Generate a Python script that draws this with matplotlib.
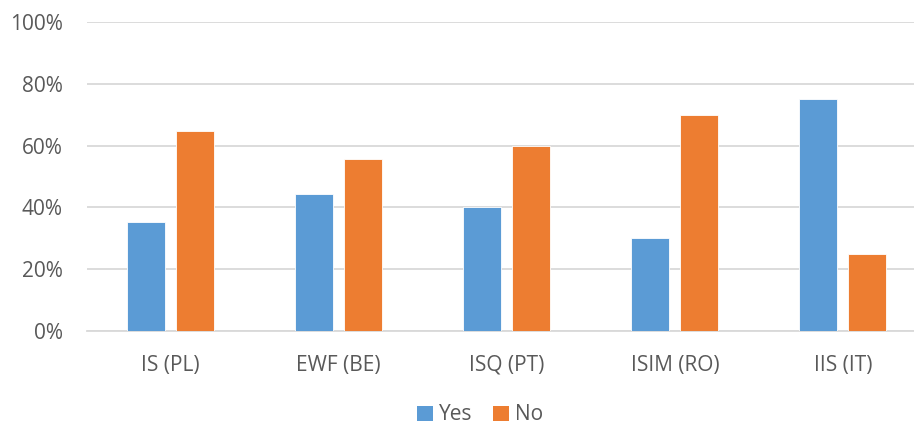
import numpy as np
import matplotlib
matplotlib.use('Agg')
import matplotlib.pyplot as plt
from matplotlib.ticker import PercentFormatter
from matplotlib.patches import Patch

# 各机构的回答比例（%）
categories = ['IS (PL)', 'EWF (BE)', 'ISQ (PT)', 'ISIM (RO)', 'IIS (IT)']
yes_pct = [35.3, 44.4, 40.0, 30.0, 75.0]
no_pct = [64.7, 55.6, 60.0, 70.0, 25.0]

blue = '#5B9BD5'
orange = '#ED7D31'
grid_color = '#D9D9D9'
text_color = '#595959'

plt.rcParams['font.family'] = ['Open Sans', 'DejaVu Sans']

W, H = 914, 425
fig = plt.figure(figsize=(W / 100, H / 100), dpi=100)
# 绘图区：左 86.5px，0% 在 331px，100% 在 22px，右侧略超出画布
ax = fig.add_axes([86.5 / W, (H - 331) / H, (927 - 86.5) / W, 309 / H])

x = np.arange(len(categories))
width = 0.226
offset = 0.146
ax.bar(x - offset, yes_pct, width, color=blue, edgecolor='white', linewidth=0.6, zorder=3)
ax.bar(x + offset, no_pct, width, color=orange, edgecolor='white', linewidth=0.6, zorder=3)

ax.set_ylim(0, 100)
ax.set_xlim(-0.5, len(categories) - 0.5)
ax.set_yticks(np.arange(0, 101, 20))
ax.yaxis.set_major_formatter(PercentFormatter(decimals=0))
ax.grid(axis='y', color=grid_color, linewidth=1.3, zorder=0)
ax.set_axisbelow(True)

for side in ['top', 'right', 'left']:
    ax.spines[side].set_visible(False)
ax.spines['bottom'].set_color(grid_color)
ax.spines['bottom'].set_linewidth(1.3)

ax.set_xticks(x)
ax.set_xticklabels(categories)
ax.tick_params(axis='both', length=0, labelsize=15, labelcolor=text_color)
ax.tick_params(axis='y', pad=17)
ax.tick_params(axis='x', pad=17)

handles = [Patch(facecolor=blue, label='Yes'), Patch(facecolor=orange, label='No')]
fig.legend(handles=handles, loc='center', bbox_to_anchor=(480 / W, (H - 415) / H),
           ncol=2, frameon=False, fontsize=15, labelcolor=text_color,
           handlelength=0.75, handleheight=0.75, handletextpad=0.3, columnspacing=1.0)

fig.savefig('out.png', dpi=100)
